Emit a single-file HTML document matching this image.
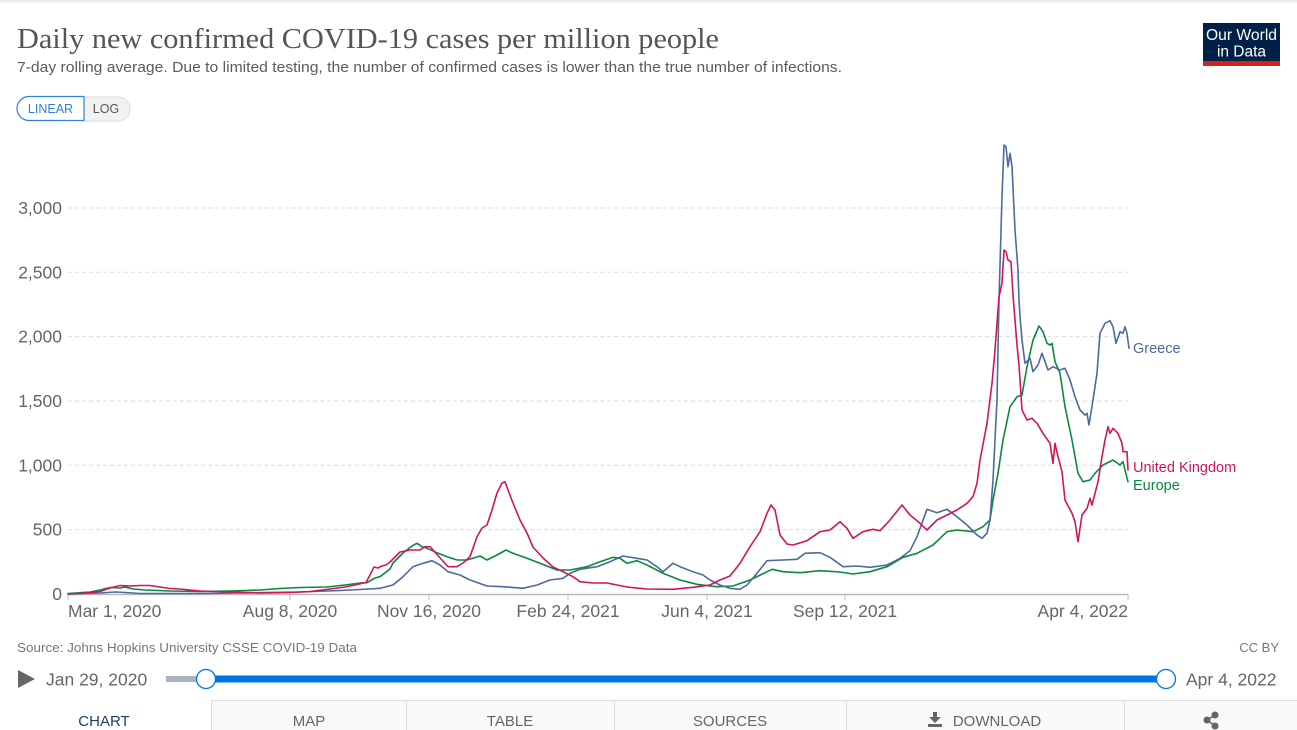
<!DOCTYPE html>
<html><head><meta charset="utf-8">
<style>
html,body{margin:0;padding:0;background:#fff;width:1297px;height:730px;overflow:hidden;}
svg{display:block;font-family:"Liberation Sans",Arial,sans-serif;}
</style></head>
<body>
<svg width="1297" height="730" viewBox="0 0 1297 730" xmlns="http://www.w3.org/2000/svg">
<defs>
<linearGradient id="topg" x1="0" y1="0" x2="0" y2="1"><stop offset="0" stop-color="#e6e6e6"/><stop offset="1" stop-color="#fff"/></linearGradient>
</defs>
<rect x="0" y="0" width="1297" height="4" fill="url(#topg)"/>

<!-- Title -->
<text x="17" y="48" font-family="'Liberation Serif',serif" font-size="29" fill="#555" textLength="702" lengthAdjust="spacingAndGlyphs">Daily new confirmed COVID-19 cases per million people</text>
<text x="17" y="72" font-size="14.5" fill="#5b5b5b" textLength="825" lengthAdjust="spacingAndGlyphs">7-day rolling average. Due to limited testing, the number of confirmed cases is lower than the true number of infections.</text>

<!-- Logo -->
<rect x="1203" y="23" width="77" height="43" fill="#002147"/>
<rect x="1203" y="61" width="77" height="5" fill="#ce261e"/>
<text x="1241.5" y="40" font-size="15.5" fill="#fff" text-anchor="middle" textLength="71" lengthAdjust="spacingAndGlyphs">Our World</text>
<text x="1241.5" y="56.5" font-size="15.5" fill="#fff" text-anchor="middle">in Data</text>

<!-- Buttons -->
<path d="M84,97 H118 a12,12 0 0 1 0,24 H84 Z" fill="#f2f2f2" stroke="#ddd" stroke-width="1"/>
<path d="M84,96.5 H29 a12,12 0 0 0 0,24 H84 Z" fill="#fff" stroke="#2f80d8" stroke-width="1.2"/>
<text x="50.5" y="113" font-size="12.5" fill="#2f80d8" text-anchor="middle">LINEAR</text>
<text x="106" y="113" font-size="12.5" fill="#555" text-anchor="middle">LOG</text>

<!-- Grid -->
<g stroke="#ddd" stroke-width="1" stroke-dasharray="4,3">
<line x1="68" y1="208" x2="1128" y2="208"/>
<line x1="68" y1="272.3" x2="1128" y2="272.3"/>
<line x1="68" y1="336.6" x2="1128" y2="336.6"/>
<line x1="68" y1="401" x2="1128" y2="401"/>
<line x1="68" y1="465.3" x2="1128" y2="465.3"/>
<line x1="68" y1="529.6" x2="1128" y2="529.6"/>
</g>
<g font-size="17.5" fill="#666" text-anchor="end">
<text x="62" y="214">3,000</text>
<text x="62" y="278.3">2,500</text>
<text x="62" y="342.6">2,000</text>
<text x="62" y="407">1,500</text>
<text x="62" y="471.3">1,000</text>
<text x="62" y="535.6">500</text>
<text x="62" y="600">0</text>
</g>

<!-- X axis -->
<line x1="68" y1="594.5" x2="1128" y2="594.5" stroke="#bbb" stroke-width="1.5"/>
<g stroke="#bbb" stroke-width="1">
<line x1="68" y1="594" x2="68" y2="600"/>
<line x1="290" y1="594" x2="290" y2="600"/>
<line x1="429" y1="594" x2="429" y2="600"/>
<line x1="568" y1="594" x2="568" y2="600"/>
<line x1="707" y1="594" x2="707" y2="600"/>
<line x1="845" y1="594" x2="845" y2="600"/>
<line x1="1128" y1="594" x2="1128" y2="600"/>
</g>
<g font-size="17.5" fill="#666">
<text x="68" y="617">Mar 1, 2020</text>
<text x="290" y="617" text-anchor="middle">Aug 8, 2020</text>
<text x="429" y="617" text-anchor="middle">Nov 16, 2020</text>
<text x="568" y="617" text-anchor="middle">Feb 24, 2021</text>
<text x="707" y="617" text-anchor="middle">Jun 4, 2021</text>
<text x="845" y="617" text-anchor="middle">Sep 12, 2021</text>
<text x="1128" y="617" text-anchor="end">Apr 4, 2022</text>
</g>

<!-- Series -->
<g fill="none" stroke-width="1.6" stroke-linejoin="round" stroke-linecap="round">
<polyline stroke="#0a8a3c" points="68,593.5 90,592 100,590 110,587.5 120,588 125,587 133,589 145,590 170,591 200,591.5 230,591 260,590 280,588.5 300,587.5 327,587 345,585 360,583 367,582.7 375,578 380,576.7 390,569 393,563 403,553 412,546 417,543.3 422,546.7 427,548.3 437,552.7 447,556.7 457,560 467,560 480,556 487,560 497,555 506,550 513,553.3 527,558.3 540,563.3 557,570 570,570 587,566.7 600,561.7 613,557.3 620,558.3 627,563.3 637,560.7 647,565 663,573.3 680,580 697,584.3 710,586 717,586.7 733,586 750,580 772,569.3 783,571.7 800,572.7 820,570.7 840,572 853,574 870,571.7 887,566.7 903,557.3 917,553.3 933,545 947,531.7 957,530 973,531.7 983,526.7 990,520 993,500 998,473.3 1003,440 1010,406.7 1017,396.7 1022,395 1027,366.7 1033,340 1039,326 1043,331.7 1047,343.3 1050,345 1052,343.3 1055,361.7 1060,373.3 1065,406.7 1072,440 1078,473.3 1083,481.7 1090,480 1095,473.3 1103,465 1113,460 1120,465 1123,461.7 1125,470 1128,481.7"/>
<polyline stroke="#4c6a9c" points="68,594 100,593 115,592 125,592.5 140,593.5 200,593.5 300,592 340,590.5 360,589.5 380,588.3 393,585 403,576.7 413,566.7 423,563.3 432,560.7 440,565 448,571.7 460,575 470,580 487,586 503,586.7 523,588.3 537,585 550,580 563,578.3 570,573.3 580,569.3 597,566.7 610,561.7 623,556 637,558.3 647,560 657,566.7 663,571.7 673,563.3 680,566.7 693,571.7 703,575 710,580 720,585 730,588.3 740,589.3 747,585 757,573.3 767,560.7 783,560 797,559.3 805,553.3 820,552.7 830,557.3 843,566.7 857,566 870,567.3 887,565 900,558.3 910,550.7 917,536.7 927,509.3 937,512.7 947,509.3 957,516.7 967,525 977,535 982,538.3 987,533.3 990,520 993,480 997,400 999,300 1002,196.7 1004,145 1006,146.7 1008,166.7 1010,153.3 1012,166.7 1015,230 1018,270 1019,300 1020,316.7 1022,340 1025,363.3 1030,358.3 1033,371.7 1038,365 1042,353.3 1045,361.7 1048,370 1053,366.7 1060,370 1065,368.3 1070,380 1075,396.7 1080,410 1085,415 1087,413.3 1089,425 1093,400 1097,373.3 1100,333.3 1105,323.3 1110,320.7 1113,326.7 1116,343.3 1120,331.7 1123,333.3 1125,326.7 1127,333.3 1129,348.3"/>
<polyline stroke="#d4145a" points="68,594 80,593.5 90,592.5 100,591.5 110,588 120,585.5 130,586 140,585.5 150,585.5 160,587 170,588.5 180,589 190,590 200,591 215,591.5 230,592 260,593 290,592.5 310,591.5 330,589 345,587 355,585 366,582.5 370,575 374,567 378,568 382,566 386,565 390,562 400,552 410,550 420,550 425,546.7 430,546.7 433,550 442,560 448,566.7 457,566.7 463,563 470,556.7 477,536.7 482,528 487,525 492,510 497,493 502,483 505,481.7 508,490 513,503 520,520 527,533 533,547 543,558 553,567 563,571.7 573,576.7 580,581.7 593,583 607,583 617,585 627,587 647,589 673,589.3 693,587.3 710,585 720,580 730,576 740,563.3 750,546.7 760,531.7 767,513.3 771,505 775,510 780,535 787,544 793,545 807,540.7 820,531.7 830,530 840,521.7 847,528.3 853,538.3 863,531.7 873,529.3 880,530.7 890,520 902,505 910,515 920,523.3 927,530 937,520 947,515 957,510 967,503.3 973,496.7 977,483.3 980,460 987,423.3 992,383.3 995,350 999,296.7 1002,283.3 1004,250 1006,251.7 1008,260 1011,261.7 1013,295 1015,320 1017,345 1019,365 1022,410 1027,420 1032,418.3 1037,423.3 1043,433.3 1050,443.3 1053,463.3 1055,443.3 1058,456.7 1062,471.7 1065,500 1072,513.3 1075,521.7 1078,541.7 1082,515 1087,508.3 1090,498.3 1092,505 1095,493.3 1098,481.7 1102,456.7 1105,440 1108,426.7 1110,433.3 1113,428.3 1118,433.3 1122,443.3 1123,451.7 1127,451.7 1128,470"/>
</g>

<!-- Labels -->
<g font-size="14.5">
<text x="1133" y="353" fill="#4c6a9c">Greece</text>
<text x="1133" y="472" fill="#d4145a">United Kingdom</text>
<text x="1133" y="490" fill="#0a8a3c">Europe</text>
</g>

<!-- Source -->
<text x="17" y="652" font-size="13" fill="#777" textLength="340" lengthAdjust="spacingAndGlyphs">Source: Johns Hopkins University CSSE COVID-19 Data</text>
<text x="1279" y="652" font-size="13" fill="#777" text-anchor="end">CC BY</text>

<!-- Timeline -->
<path d="M18,670 L35,679 L18,688 Z" fill="#666"/>
<text x="46" y="685.5" font-size="17.5" fill="#666">Jan 29, 2020</text>
<rect x="166" y="676" width="42" height="6" fill="#a9b3bf"/>
<rect x="206" y="675.5" width="960" height="7" fill="#0073e6"/>
<circle cx="206" cy="679" r="9.5" fill="#fff" stroke="#0073e6" stroke-width="1.3"/>
<circle cx="1166" cy="679" r="9.5" fill="#fff" stroke="#0073e6" stroke-width="1.3"/>
<text x="1186" y="685.5" font-size="17.5" fill="#666">Apr 4, 2022</text>

<!-- Tabs -->
<rect x="211" y="700" width="1086" height="30" fill="#f8f9fa"/>
<line x1="211" y1="700.5" x2="1297" y2="700.5" stroke="#ddd"/>
<g stroke="#ddd">
<line x1="211.5" y1="700" x2="211.5" y2="730"/>
<line x1="406.5" y1="700" x2="406.5" y2="730"/>
<line x1="614.5" y1="700" x2="614.5" y2="730"/>
<line x1="846.5" y1="700" x2="846.5" y2="730"/>
<line x1="1124.5" y1="700" x2="1124.5" y2="730"/>
</g>
<g font-size="15" fill="#666" text-anchor="middle">
<text x="104" y="726" fill="#1d3d63">CHART</text>
<text x="309" y="726">MAP</text>
<text x="510" y="726">TABLE</text>
<text x="730" y="726">SOURCES</text>
<text x="997" y="726">DOWNLOAD</text>
</g>
<!-- download icon -->
<g fill="#666">
<rect x="933" y="712" width="4" height="6"/>
<path d="M929,717 L941,717 L935,723 Z"/>
<rect x="928" y="724" width="14" height="3"/>
</g>
<!-- share icon -->
<g fill="#666" stroke="#666" stroke-width="1.5">
<line x1="1207" y1="720" x2="1215" y2="715"/>
<line x1="1207" y1="720" x2="1215" y2="726"/>
<circle cx="1207" cy="720" r="2.8"/>
<circle cx="1215" cy="715" r="2.8"/>
<circle cx="1215" cy="726" r="2.8"/>
</g>
</svg>
</body></html>
